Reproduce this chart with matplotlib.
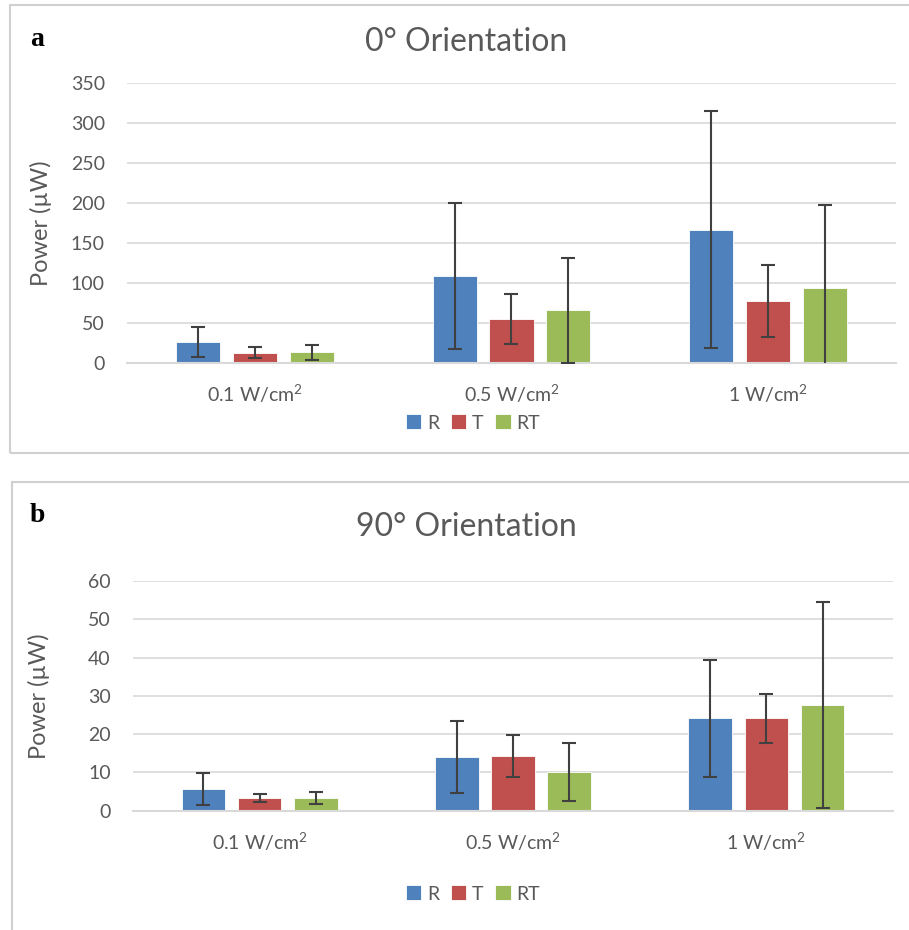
import matplotlib
matplotlib.use("Agg")
import matplotlib.pyplot as plt
import numpy as np
from matplotlib.patches import Rectangle

categories = ["0.1 W/cm$^{2}$", "0.5 W/cm$^{2}$", "1 W/cm$^{2}$"]
series = ["R", "T", "RT"]
colors = ["#4F81BD", "#C0504D", "#9BBB59"]

# Panel a: 0 deg orientation
a_R = [26.3, 109.0, 166.7]
a_T = [12.9, 54.6, 77.0]
a_RT = [13.3, 65.8, 94.0]
a_R_err = [19.0, 91.0, 148.0]
a_T_err = [6.9, 31.4, 45.0]
a_RT_err = [9.5, 65.5, 103.5]

# Panel b: 90 deg orientation
b_R = [5.6, 13.9, 24.1]
b_T = [3.3, 14.3, 24.1]
b_RT = [3.3, 10.1, 27.6]
b_R_err = [4.2, 9.4, 15.2]
b_T_err = [1.1, 5.5, 6.4]
b_RT_err = [1.5, 7.5, 27.0]

W, H = 909, 930
fig = plt.figure(figsize=(W / 100, H / 100), dpi=100)
plt.rcParams['font.family'] = ['Lato', 'DejaVu Sans']
plt.rcParams['mathtext.fontset'] = 'custom'
plt.rcParams['mathtext.rm'] = 'Lato'
txt = "#595959"
grid = "#d9d9d9"


def fx(px):
    return px / W


def fy(py):
    return 1 - py / H


def panel(l, r, top, bot, vals, errs, ymax, step, title, letter, title_y, letter_y, legend_y, box, ylab_x):
    ax = fig.add_axes([fx(l), fy(bot), fx(r - l), (bot - top) / H])
    x = np.arange(len(categories))
    offs = [-0.222, 0.0, 0.222]
    w = 0.172
    for i, (v, e) in enumerate(zip(vals, errs)):
        ax.bar(x + offs[i], v, width=w, color=colors[i], zorder=2, label=series[i],
               edgecolor='white', linewidth=0.6)
        ax.errorbar(x + offs[i], v, yerr=e, fmt='none', ecolor='#404040', elinewidth=1.5,
                    capsize=5, capthick=1.5, zorder=3)
    ax.set_xlim(-0.5, 2.5)
    ax.set_ylim(0, ymax)
    ax.set_yticks(np.arange(0, ymax + 1, step))
    ax.yaxis.grid(True, color=grid, linewidth=1.2, zorder=0)
    ax.set_axisbelow(True)
    for s in ['top', 'right', 'left']:
        ax.spines[s].set_visible(False)
    ax.spines['bottom'].set_color(grid)
    ax.spines['bottom'].set_linewidth(1.5)
    ax.tick_params(axis='both', length=0, colors=txt, labelsize=14)
    ax.tick_params(axis='y', pad=16)
    ax.tick_params(axis='x', pad=14)
    ax.set_xticks(x)
    ax.set_xticklabels(categories, fontsize=14, color=txt)
    ax.set_ylabel("Power (µW)", fontsize=17, color=txt)
    ax.yaxis.set_label_coords((ylab_x - l) / (r - l), 0.5)
    fig.text(fx(466), fy(title_y), title, ha='center', va='center', fontsize=23, color=txt)
    fig.text(fx(30), fy(letter_y), letter, ha='left', va='center', fontsize=20,
             fontweight='bold', family='Liberation Serif', color='black')
    leg = fig.legend(*ax.get_legend_handles_labels(), loc='center', bbox_to_anchor=(fx(473), fy(legend_y)),
                     ncol=3, frameon=False, fontsize=14, handlelength=0.8, handleheight=0.8,
                     handletextpad=0.3, columnspacing=0.6)
    for t in leg.get_texts():
        t.set_color(txt)
    fig.patches.append(Rectangle((fx(box[0]), fy(box[3])), fx(box[2] - box[0]), (box[3] - box[1]) / H,
                                 transform=fig.transFigure, fill=False, edgecolor='#d0d0d0',
                                 linewidth=1.5))
    return ax


panel(127, 896, 83, 363, [a_R, a_T, a_RT], [a_R_err, a_T_err, a_RT_err], 350, 50,
      "0° Orientation", "a", 42, 40, 423, (10, 5, 915, 453), 52)
panel(133, 893, 581, 810.7, [b_R, b_T, b_RT], [b_R_err, b_T_err, b_RT_err], 60, 10,
      "90° Orientation", "b", 527, 516, 894, (12, 482, 915, 935), 50)

fig.savefig("out.png", dpi=100)
